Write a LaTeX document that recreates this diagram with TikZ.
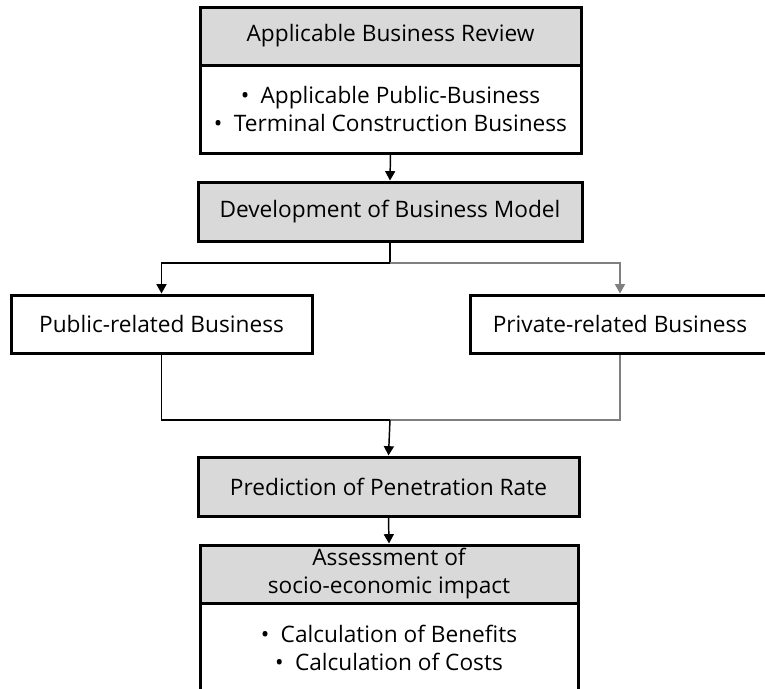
\documentclass[tikz,border=0pt]{standalone}
\usepackage{fontspec}
\setmainfont{Open Sans}
\usetikzlibrary{arrows.meta}
\definecolor{hdrgray}{HTML}{D9D9D9}
\definecolor{wiregray}{HTML}{7F7F7F}
\begin{document}
\begin{tikzpicture}[x=0.75pt,y=-0.75pt,
  box/.style={draw=black, line width=2.25pt, inner sep=0pt, align=center,
    font=\fontsize{17}{21}\selectfont},
  grayfill/.style={box, fill=hdrgray},
  wire/.style={line width=1.1pt, draw=black},
  flow/.style={wire, -{Triangle[width=7.5pt,length=7pt]}},
]
\useasboundingbox (0,0) rectangle (765,689);
\clip (0,0) rectangle (765,689);

% review block: grey heading over a white list
\node[grayfill, minimum width=381*0.75pt, minimum height=58*0.75pt] (review) at (390.5,36) {Applicable Business Review};
\node[box, minimum width=381*0.75pt, minimum height=88*0.75pt] (reviewlist) at (390.5,109)
  {•\enspace Applicable Public-Business\\•\enspace Terminal Construction Business};

\node[grayfill, minimum width=384*0.75pt, minimum height=59*0.75pt] (devmodel) at (390,211.5) {Development of Business Model};

\node[box, fill=white, minimum width=301*0.75pt, minimum height=58*0.75pt] (public) at (161.5,324) {Public-related Business};
\node[box, fill=white, minimum width=300*0.75pt, minimum height=58*0.75pt] (private) at (620,324) {Private-related Business};

\node[grayfill, minimum width=381*0.75pt, minimum height=59*0.75pt] (predict) at (388.5,486.5) {Prediction of Penetration Rate};

% impact block: grey heading over a white list that runs off the page
\node[grayfill, minimum width=378*0.75pt, minimum height=58*0.75pt] (impact) at (389,574) {Assessment of\\socio-economic impact};
\node[box, fill=white, minimum width=378*0.75pt, minimum height=90*0.75pt] (impactlist) at (389,648)
  {•\enspace Calculation of Benefits\\•\enspace Calculation of Costs};

% connectors
\coordinate (split) at (390,263);
\coordinate (merge) at (390,420);
\draw[flow] (reviewlist.south) -- (devmodel.north);
\draw[wire] (devmodel.south) -- (split);
\draw[flow] (split) -| (public.north);
\draw[flow, draw=wiregray] (split) -| (private.north);
\draw[wire] (public.south) |- (merge);
\draw[wire, draw=wiregray] (private.south) |- (merge);
\draw[flow] (merge) -- (predict.north);
\draw[flow] (predict.south) -- (impact.north);
\end{tikzpicture}
\end{document}
